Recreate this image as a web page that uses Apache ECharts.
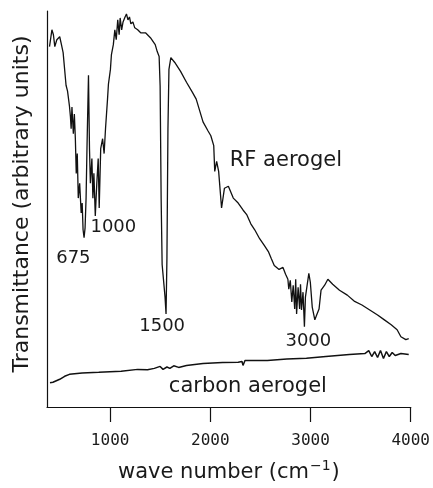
<!DOCTYPE html>
<html>
<head>
<meta charset="utf-8">
<script src="https://cdn.jsdelivr.net/npm/echarts@6/dist/echarts.min.js"></script>
<style>
html,body{margin:0;padding:0;background:#fff;}
#chart{width:433px;height:488px;}
</style>
</head>
<body>
<div id="chart"></div>
<script>
// RF aerogel spectrum (wave number, transmittance in arbitrary units)
const rfWave = [395,419,434,448,468,497,512,531,560,575,594,604,611,619,633,643,653,662,672,682,696,711,721,730,740,750,760,769,784,794,803,818,828,838,852,867,881,891,906,925,940,954,974,983,1003,1013,1032,1047,1061,1076,1090,1100,1115,1129,1149,1163,1178,1193,1207,1227,1246,1275,1305,1353,1402,1450,1470,1489,1499,1509,1519,1548,1558,1567,1577,1587,1606,1645,1703,1762,1820,1859,1927,1976,2005,2034,2044,2063,2083,2112,2141,2180,2229,2278,2326,2365,2404,2443,2492,2540,2579,2608,2638,2686,2725,2751,2774,2783,2798,2813,2827,2842,2852,2861,2876,2891,2900,2910,2925,2939,2949,2959,2983,2998,3017,3043,3061,3085,3105,3141,3173,3221,3289,3367,3435,3513,3591,3669,3737,3805,3864,3902,3951,3980];
const rfValue = [91,95.25,94,91,92.75,93.5,91.75,89.5,81.25,79.75,76,73.25,70.25,75.75,69,74,67.75,59,64,52.75,56.5,49,51.5,44.75,42.75,45.25,52.75,65.25,83.75,65.25,56.5,62.75,52.75,59,48.25,56.5,62.75,50.25,65.25,67.75,64,70.25,77.75,81.5,85.25,89,91.5,95.25,92.75,97.75,94,98.25,95.25,97.25,98.5,99.25,97.75,98.5,96.75,97.25,95.75,95.25,94.5,94.5,93.25,91.5,89.75,88.5,81,52.75,36,27.75,23.5,37.75,70.25,85.25,88.25,87,84.75,82,79.5,77.75,72,69.75,68.5,66,59.5,62,59.5,50.25,55.25,55.75,52.75,51.5,49.75,48.5,46.25,44.75,42.5,40.75,39.25,37.5,35.75,34.75,35.25,33.5,32.25,29.75,32,26.5,30.75,24.75,32.25,23.5,30.25,24.75,31,24.5,29,20.25,27.75,29.5,33.75,31.5,25.25,22,23.25,24.75,29.5,30.75,32.25,31,29.5,28.25,26.75,25.75,24.5,23.25,22,20.75,19.5,17.75,17,17.25];

// carbon aerogel spectrum
const cWave = [400,429,448,497,546,594,721,886,1110,1275,1373,1441,1499,1528,1567,1596,1635,1684,1762,1927,2122,2278,2316,2326,2336,2346,2569,2764,2959,3153,3387,3542,3581,3611,3640,3669,3698,3728,3757,3786,3815,3845,3902,3980];
const cValue = [6.1,6.25,6.25,7,7.75,8.25,8.6,8.75,9,9.5,9.4,9.75,10.25,9.5,10.1,9.75,10.4,10,10.5,11,11.25,11.3,11.5,10.5,10.75,11.75,11.75,12.1,12.3,12.75,13.25,13.5,14.25,12.75,14,12.5,14.25,12.25,14,12.75,13.75,13,13.5,13.25];

// x-axis ticks
const xTicks = [1000, 2000, 3000, 4000];

// in-plot annotations
const annoText = ['675', '1000', '1500', 'RF aerogel', '3000', 'carbon aerogel'];
const annoWave = [633, 1032, 1519, 2754, 2978, 2375];
const annoValue = [37.5, 45.25, 20.25, 62.25, 16.5, 5.25];
const annoSize = [18, 18, 18, 21, 18, 21];

function pairs(xs, ys) {
  const n = Math.min(xs.length, ys.length);
  const out = [];
  for (let i = 0; i < n; i++) out.push([xs[i], ys[i]]);
  return out;
}

const chart = echarts.init(document.getElementById('chart'), null, {renderer: 'canvas'});
const textColor = '#1a1a1a';
const fontFam = '"DejaVu Sans", sans-serif';

chart.setOption({
  animation: false,
  backgroundColor: '#fff',
  grid: {left: 47, right: 13, top: 11, bottom: 77, containLabel: false},
  xAxis: {
    type: 'value',
    min: 370,
    max: 4000,
    splitLine: {show: false},
    axisLine: {show: true, onZero: false, lineStyle: {color: '#111', width: 1.2}},
    axisTick: {show: true, inside: false, length: 15, customValues: xTicks, lineStyle: {color: '#111', width: 1.2}},
    axisLabel: {show: true, customValues: xTicks, margin: 26, color: textColor, fontFamily: '"DejaVu Sans Mono", monospace', fontSize: 16,
      formatter: function (v) { return String(v); }},
    name: '{a|wave number (cm}{s|−1}{a|)}',
    nameLocation: 'middle',
    nameGap: 52,
    nameTextStyle: {
      rich: {
        a: {fontFamily: fontFam, fontSize: 21, color: textColor, verticalAlign: 'bottom', lineHeight: 24},
        s: {fontFamily: fontFam, fontSize: 14, color: textColor, verticalAlign: 'top', lineHeight: 24, padding: [0, 1, 10, 1]}
      }
    }
  },
  yAxis: {
    type: 'value',
    min: 0,
    max: 100,
    splitLine: {show: false},
    axisLine: {show: true, lineStyle: {color: '#111', width: 1.2}},
    axisTick: {show: false},
    axisLabel: {show: false},
    name: 'Transmittance (arbitrary units)',
    nameLocation: 'middle',
    nameGap: 14,
    nameTextStyle: {fontFamily: fontFam, fontSize: 22, color: textColor, padding: [0, 0, 0, 10]}
  },
  series: [
    {
      name: 'RF aerogel',
      type: 'line',
      data: pairs(rfWave, rfValue),
      showSymbol: false,
      lineStyle: {color: '#111', width: 1.3},
      z: 3
    },
    {
      name: 'carbon aerogel',
      type: 'line',
      data: pairs(cWave, cValue),
      showSymbol: false,
      lineStyle: {color: '#111', width: 1.5},
      z: 3
    },
    {
      name: 'labels',
      type: 'scatter',
      symbolSize: 0,
      silent: true,
      itemStyle: {opacity: 1},
      data: annoText.map((t, i) => ({
        value: [annoWave[i], annoValue[i]],
        label: {
          show: true,
          position: 'inside',
          formatter: t,
          fontFamily: fontFam,
          fontSize: annoSize[i],
          color: textColor,
          opacity: 1
        }
      })),
      z: 4
    }
  ]
});
</script>
</body>
</html>
